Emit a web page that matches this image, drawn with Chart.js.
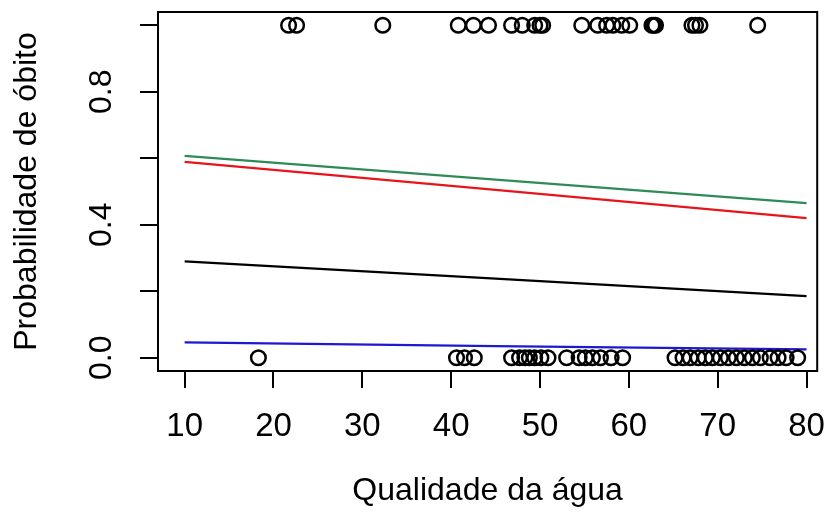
<!DOCTYPE html>
<html>
<head>
<meta charset="utf-8">
<script src="https://cdn.jsdelivr.net/npm/chart.js@4"></script>
<style>
  html, body { margin: 0; padding: 0; background: #ffffff; }
  #wrap { width: 827px; height: 524px; }
</style>
</head>
<body>
<div id="wrap"><canvas id="chart" width="827" height="524"></canvas></div>
<script>
// Observed outcomes: deaths (y = 1) and survivors (y = 0) by water quality
const deathX = [21.7, 22.6, 32.3, 40.8, 42.5, 44.2, 46.8, 48.0, 49.4, 50.0, 50.3,
  54.7, 56.5, 57.5, 58.2, 59.2, 60.1, 62.6, 62.8, 63.0, 67.1, 67.5, 68.0, 74.5];
const survivorX = [18.3, 40.6, 41.5, 42.6, 46.8, 47.7, 48.3, 48.8, 49.4, 50.1, 50.9,
  53.0, 54.4, 55.1, 55.9, 56.8, 58.0, 59.3, 65.2, 66.1, 66.9, 67.8, 68.6, 69.4,
  70.3, 71.2, 72.1, 73.0, 73.9, 74.8, 75.9, 76.8, 77.7, 79.0];

// Fitted probability curves
const curveX = [10, 45, 80];
const greenCurve = [0.607, 0.536, 0.465];
const redCurve = [0.589, 0.505, 0.420];
const blackCurve = [0.290, 0.238, 0.185];
const blueCurve = [0.046, 0.035, 0.025];

// Axes
const xTickValues = [10, 20, 30, 40, 50, 60, 70, 80];
const yTickValues = [0, 0.2, 0.4, 0.6, 0.8, 1.0];
const yLabelled = [0, 0.4, 0.8];
const xRange = [7.0, 81.2];
const yRange = [-0.04, 1.04];

const toPoints = (xs, ys) => xs.map((x, i) => ({ x: x, y: ys[i] }));
const atLevel = (xs, level) => xs.map(x => ({ x: x, y: level }));

const FONT = 'Liberation Sans, Arial, sans-serif';

// box around the plotting region, like R's box()
const frame = {
  id: 'frame',
  afterDraw(chart) {
    const { ctx, chartArea: a } = chart;
    ctx.save();
    ctx.strokeStyle = '#000';
    ctx.lineWidth = 2;
    ctx.strokeRect(a.left, a.top, a.right - a.left, a.bottom - a.top);
    ctx.restore();
  }
};

function curve(data, color) {
  return {
    type: 'line',
    data: data,
    borderColor: color,
    borderWidth: 2.2,
    pointRadius: 0,
    fill: false,
    tension: 0
  };
}

function circles(data) {
  return {
    type: 'scatter',
    data: data,
    pointStyle: 'circle',
    pointRadius: 7.3,
    pointBorderWidth: 2.5,
    pointBorderColor: '#000',
    pointBackgroundColor: 'rgba(0,0,0,0)'
  };
}

// keep labels from pushing the plot region around
function noLabelPadding(s) {
  s.paddingLeft = 0;
  s.paddingRight = 0;
  s.paddingTop = 0;
  s.paddingBottom = 0;
}

new Chart(document.getElementById('chart'), {
  type: 'scatter',
  data: {
    datasets: [
      circles(atLevel(deathX, 1)),
      circles(atLevel(survivorX, 0)),
      curve(toPoints(curveX, greenCurve), '#2e8b57'),
      curve(toPoints(curveX, redCurve), '#e8141c'),
      curve(toPoints(curveX, blackCurve), '#000000'),
      curve(toPoints(curveX, blueCurve), '#1a1ad0')
    ]
  },
  options: {
    responsive: false,
    animation: false,
    layout: { padding: { top: 12, right: 9, left: 0, bottom: 0 } },
    plugins: { legend: { display: false }, tooltip: { enabled: false } },
    scales: {
      x: {
        type: 'linear',
        min: xRange[0],
        max: xRange[1],
        afterBuildTicks: s => { s.ticks = xTickValues.map(v => ({ value: v })); },
        afterFit: s => { s.height = 153; noLabelPadding(s); },
        grid: { drawOnChartArea: false, tickLength: 17, color: '#000', lineWidth: 2 },
        border: { display: true, color: '#000', width: 2 },
        ticks: {
          color: '#000',
          padding: 19,
          maxRotation: 0,
          autoSkip: false,
          font: { family: FONT, size: 33 }
        },
        title: {
          display: true,
          text: 'Qualidade da água',
          color: '#000',
          font: { family: FONT, size: 32 },
          padding: { bottom: 14 }
        }
      },
      y: {
        type: 'linear',
        min: yRange[0],
        max: yRange[1],
        afterBuildTicks: s => { s.ticks = yTickValues.map(v => ({ value: v })); },
        afterFit: s => { s.width = 158; noLabelPadding(s); },
        grid: { drawOnChartArea: false, tickLength: 18, color: '#000', lineWidth: 2 },
        border: { display: true, color: '#000', width: 2 },
        ticks: {
          color: '#000',
          padding: 16,
          minRotation: 90,
          maxRotation: 90,
          crossAlign: 'center',
          autoSkip: false,
          font: { family: FONT, size: 32 },
          callback: v => yLabelled.some(t => Math.abs(t - v) < 1e-9) ? v.toFixed(1) : ''
        },
        title: {
          display: true,
          text: 'Probabilidade de óbito',
          color: '#000',
          font: { family: FONT, size: 32 },
          padding: { top: 8 }
        }
      }
    }
  },
  plugins: [frame]
});
</script>
</body>
</html>
